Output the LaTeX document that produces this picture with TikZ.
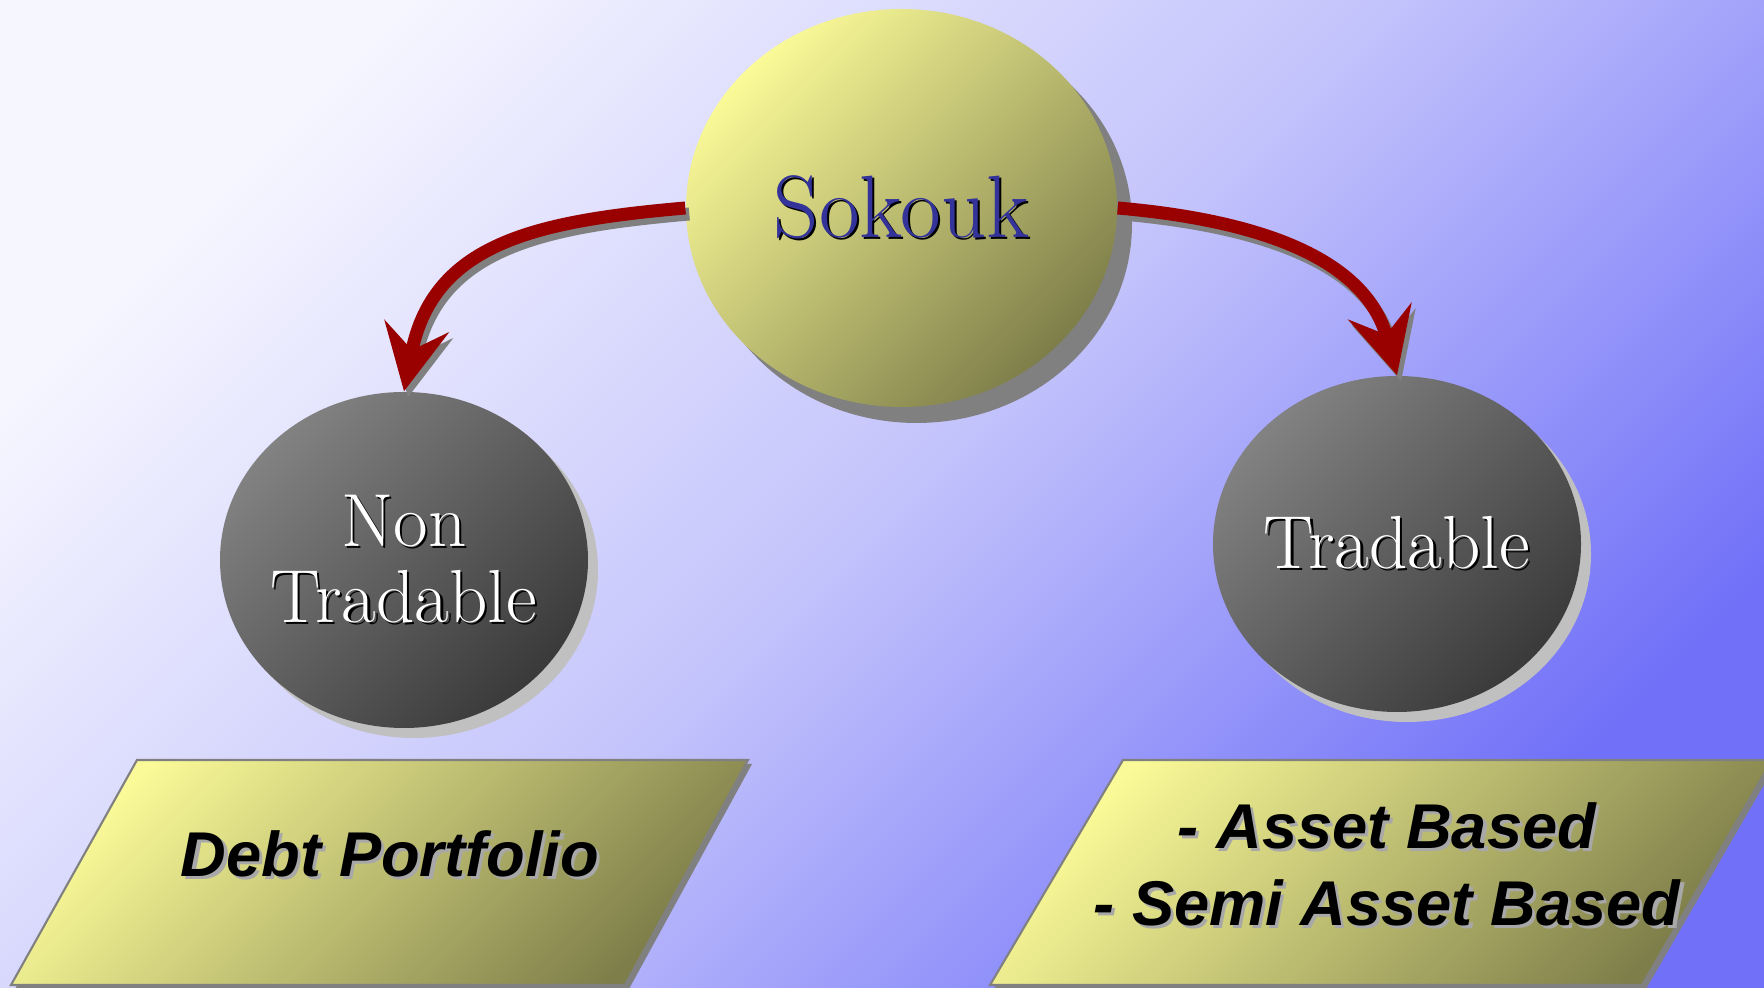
\documentclass[tikz,border=0pt]{standalone}
\usepackage{fontspec}
\newfontfamily\arialfont{Liberation Sans}
\usetikzlibrary{shapes.geometric}
\usetikzlibrary{arrows.meta}
\usetikzlibrary{shadows}

\definecolor{bgtl}{HTML}{F6F6FF}
\definecolor{bgmid}{HTML}{C4C4FC}
\definecolor{bgbr}{HTML}{7070F8}
\definecolor{yellowlight}{HTML}{FAFA98}
\definecolor{yellowdark}{HTML}{7E7E4A}
\definecolor{graylight}{HTML}{828282}
\definecolor{graydark}{HTML}{3A3A3A}
\definecolor{arrowred}{HTML}{990000}
\definecolor{sokoukblue}{HTML}{333399}
\definecolor{darkshadow}{HTML}{808080}
\definecolor{lightshadow}{HTML}{C0C0C0}
\definecolor{textshadow}{HTML}{A8A8A8}

\newcommand{\shadowtext}[3]{\makebox[0pt][l]{\kern#1\raisebox{-#1}{\textcolor{#2}{#3}}}#3}
\newcommand{\ballline}[1]{\makebox[0pt]{\shadowtext{0.6pt}{black}{#1}}}

\begin{document}
\begin{tikzpicture}[
    yellowball/.style={ellipse, inner sep=0pt, minimum width=4.31cm, minimum height=3.98cm,
        top color=yellowlight, bottom color=yellowdark, shading angle=45,
        drop shadow={shadow xshift=0.15cm, shadow yshift=-0.16cm, fill=darkshadow, opacity=1}},
    grayball/.style={ellipse, inner sep=0pt, minimum width=3.68cm, minimum height=3.36cm,
        top color=graylight, bottom color=graydark, shading angle=45,
        text=white, align=center, font=\fontsize{21.4}{21.6}\selectfont,
        drop shadow={shadow xshift=0.1cm, shadow yshift=-0.1cm, fill=lightshadow, opacity=1}},
    paperbox/.style={draw=darkshadow, line width=0.6pt,
        top color=yellowlight, bottom color=yellowdark, shading angle=45,
        drop shadow={shadow xshift=0.04cm, shadow yshift=-0.04cm, fill=darkshadow, opacity=1}},
    boxtext/.style={align=center, inner sep=0pt, font=\arialfont\bfseries\itshape\fontsize{18}{21.8}\selectfont},
    link/.style={line width=3.7pt, draw=arrowred, -{Stealth[length=6.6mm, width=6.5mm, inset=2.4mm]}},
    linkshadow/.style={link, draw=darkshadow, transform canvas={xshift=0.04cm, yshift=-0.06cm}}
]
\useasboundingbox (0,0) rectangle (17.64,9.88);
\shade[top color=bgtl, bottom color=bgbr, middle color=bgmid, shading angle=45] (0,0) rectangle (17.64,9.88);

% balls
\node[yellowball, text=sokoukblue, font=\fontsize{25.2}{28}\selectfont] (sokouk) at (9.015,7.80)
    {\shadowtext{0.6pt}{black}{Sokouk}};
\node[grayball] (nontrad) at (4.04,4.28) {\ballline{Non}\\\ballline{Tradable}};
\node[grayball] (trad) at (13.97,4.44) {\ballline{Tradable}};

% boxes
\path[paperbox] (0.11,0.03) -- (6.25,0.03) -- (7.48,2.28) -- (1.37,2.28) -- cycle;
\node[boxtext] (debt) at (3.90,1.33) {\shadowtext{0.9pt}{textshadow}{Debt Portfolio}};
\path[paperbox] (9.90,0.03) -- (16.42,0.03) -- (17.72,2.28) -- (11.23,2.28) -- cycle;
\node[boxtext] (asset) at (13.87,1.22)
    {\shadowtext{0.9pt}{textshadow}{- Asset Based}\\\shadowtext{0.9pt}{textshadow}{- Semi Asset Based}};

% arrows
\draw[linkshadow] (sokouk.west) to[out=185, in=79, looseness=1.15] (nontrad.north);
\draw[link] (sokouk.west) to[out=185, in=79, looseness=1.15] (nontrad.north);
\draw[linkshadow] (sokouk.east) to[out=-5, in=105] (trad.north);
\draw[link] (sokouk.east) to[out=-5, in=105] (trad.north);
\end{tikzpicture}
\end{document}
